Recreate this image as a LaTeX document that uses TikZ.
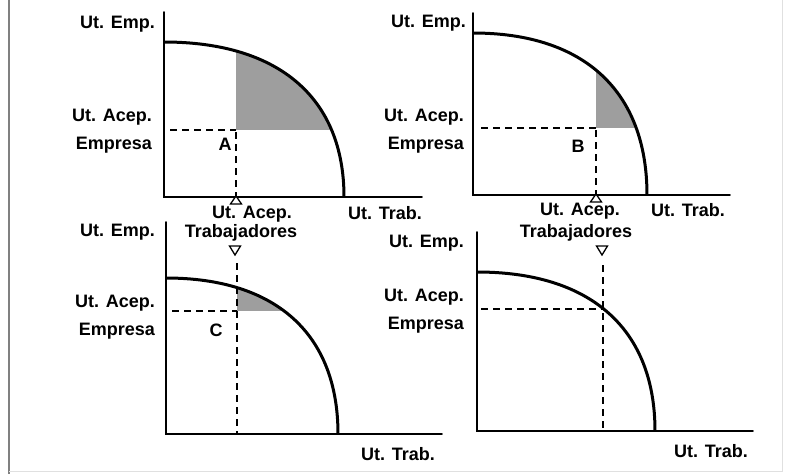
\documentclass[tikz,border=0pt]{standalone}
\usepackage{fontspec}
\setmainfont{Liberation Sans}
\usetikzlibrary{positioning}
\tikzset{
  axis/.style={line width=1.6pt,line cap=round},
  frontier/.style={line width=3pt},
  guide/.style={line width=1.4pt,dash pattern=on 7pt off 5pt},
  gain/.style={fill=black!38},
  marker/.style={line width=1.3pt,fill=white,line join=miter},
  lbl/.style={font=\fontsize{18}{28}\selectfont\bfseries,inner sep=0pt,align=right},
}

\begin{document}
\begin{tikzpicture}[x=1pt,y=-1pt]
  \useasboundingbox (0,0) rectangle (785,474);
  % frame of the scan
  \draw[gray,line width=1.5pt] (9,0) -- (9,474);
  \draw[black!12,line width=1pt] (9,471) -- (782,471) -- (782,0);

  % --- panel A
  \draw[axis] (164,12) -- (164,197) -- (422,197);
  \begin{scope}
    \clip (164,197) -- (164,42) .. controls (279,42) and (344,98) .. (344,197) -- cycle;
    \fill[gain] (236,30) rectangle (360,130);
  \end{scope}
  \draw[frontier] (164,42) .. controls (279,42) and (344,98) .. (344,197);
  \draw[guide] (170,130) -- (236,130);
  \draw[guide] (236,132) -- (236,197);
  \draw[marker] (230.5,204) -- (236,196) -- (241.5,204) -- cycle;
  \node[lbl,anchor=east] (empA) at (155,24) {Ut. Emp.};
  \node[lbl,anchor=east] (acepA) at (152,131) {Ut. Acep.\\Empresa};
  \node[lbl] (ptA) at (225,144) {A};
  \node[lbl] (acepwA) at (252,214) {Ut. Acep.};
  \node[lbl] (trabA) at (241,233) {Trabajadores};
  \node[lbl] (utA) at (385,213) {Ut. Trab.};

  % --- panel B
  \draw[axis] (473,13) -- (473,195) -- (730,195);
  \begin{scope}
    \clip (473,195) -- (473,33) .. controls (584,33) and (647,91) .. (647,195) -- cycle;
    \fill[gain] (596,20) rectangle (660,128);
  \end{scope}
  \draw[frontier] (473,33) .. controls (584,33) and (647,91) .. (647,195);
  \draw[guide] (481,128) -- (596,128);
  \draw[guide] (596,130) -- (596,195);
  \draw[marker] (590.5,202) -- (596,194) -- (601.5,202) -- cycle;
  \node[lbl,anchor=east] (empB) at (466,23) {Ut. Emp.};
  \node[lbl,anchor=east] (acepB) at (464,131) {Ut. Acep.\\Empresa};
  \node[lbl] (ptB) at (578,146) {B};
  \node[lbl] (acepwB) at (580,211) {Ut. Acep.};
  \node[lbl] (trabB) at (576,233) {Trabajadores};
  \node[lbl] (utB) at (688,210) {Ut. Trab.};

  % --- panel C
  \draw[axis] (166,222) -- (166,434) -- (442,434);
  \begin{scope}
    \clip (166,434) -- (166,278) .. controls (276,278) and (338,334) .. (338,434) -- cycle;
    \fill[gain] (237,260) rectangle (350,311);
  \end{scope}
  \draw[frontier] (166,278) .. controls (276,278) and (338,334) .. (338,434);
  \draw[guide] (172,311) -- (237,311);
  \draw[guide] (237,263) -- (237,434);
  \draw[marker] (229.5,246) -- (235,255) -- (240.5,246) -- cycle;
  \node[lbl,anchor=east] (empC) at (155,232) {Ut. Emp.};
  \node[lbl,anchor=east] (acepC) at (155,317) {Ut. Acep.\\Empresa};
  \node[lbl] (ptC) at (216,330) {C};
  \node[lbl] (utC) at (398,454) {Ut. Trab.};

  % --- panel D
  \draw[axis] (477,232) -- (477,431) -- (753,431);
  \draw[frontier] (477,272) .. controls (591,272) and (655,329) .. (655,431);
  \draw[guide] (481,309) -- (603,309);
  \draw[guide] (603,265) -- (603,431);
  \draw[marker] (596.5,246) -- (602,255) -- (607.5,246) -- cycle;
  \node[lbl,anchor=east] (empD) at (464,243) {Ut. Emp.};
  \node[lbl,anchor=east] (acepD) at (464,311) {Ut. Acep.\\Empresa};
  \node[lbl] (utD) at (711,451) {Ut. Trab.};
\end{tikzpicture}
\end{document}
